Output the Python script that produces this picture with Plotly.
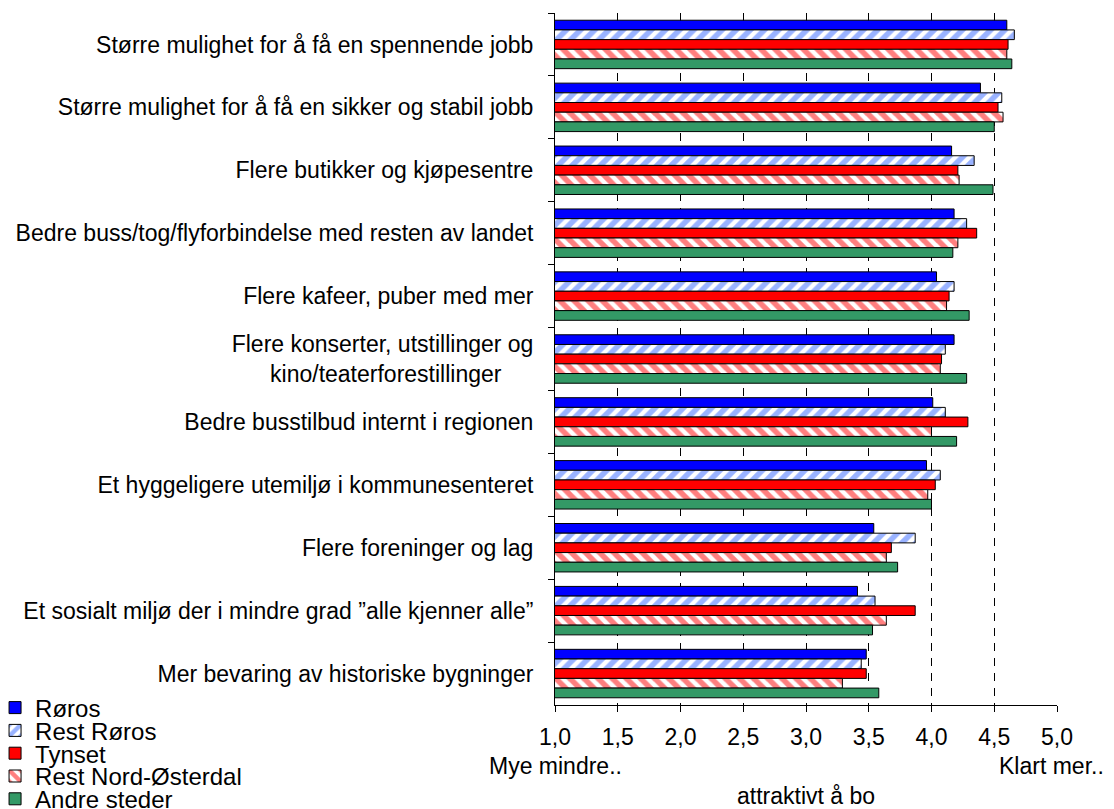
import plotly.graph_objects as go

categories = [
    "Større mulighet for å få en spennende jobb",
    "Større mulighet for å få en sikker og stabil jobb",
    "Flere butikker og kjøpesentre",
    "Bedre buss/tog/flyforbindelse med resten av landet",
    "Flere kafeer, puber med mer",
    "Flere konserter, utstillinger og<br>kino/teaterforestillinger" + "\u00a0" * 5,
    "Bedre busstilbud internt i regionen",
    "Et hyggeligere utemiljø i kommunesenteret",
    "Flere foreninger og lag",
    "Et sosialt miljø der i mindre grad \u201dalle kjenner alle\u201d",
    "Mer bevaring av historiske bygninger",
]

roros = [4.60, 4.39, 4.16, 4.18, 4.04, 4.18, 4.01, 3.96, 3.54, 3.41, 3.48]
rest_roros = [4.66, 4.56, 4.34, 4.28, 4.18, 4.11, 4.11, 4.07, 3.87, 3.55, 3.44]
tynset = [4.61, 4.53, 4.21, 4.36, 4.14, 4.08, 4.29, 4.03, 3.68, 3.87, 3.48]
rest_nord_osterdal = [4.60, 4.57, 4.22, 4.21, 4.12, 4.07, 4.00, 3.97, 3.64, 3.64, 3.29]
andre_steder = [4.64, 4.50, 4.49, 4.17, 4.30, 4.28, 4.20, 4.00, 3.73, 3.53, 3.58]

x_ticks = [1.0, 1.5, 2.0, 2.5, 3.0, 3.5, 4.0, 4.5, 5.0]

FONT = "Arial, Liberation Sans, sans-serif"
FS = 23
outline = dict(color="black", width=1)

series = [
    ("Røros", roros, dict(color="#0000ff", line=outline)),
    ("Rest Røros", rest_roros, dict(
        color="white", line=outline,
        pattern=dict(shape="/", fgcolor="#3366ff", bgcolor="white", size=10, solidity=0.55))),
    ("Tynset", tynset, dict(color="#ff0000", line=outline)),
    ("Rest Nord-Østerdal", rest_nord_osterdal, dict(
        color="white", line=outline,
        pattern=dict(shape="\\", fgcolor="#ff0000", bgcolor="white", size=10, solidity=0.55))),
    ("Andre steder", andre_steder, dict(color="#339966", line=outline)),
]

# figure is drawn 8px in from the page corner (default body margin)
W, H = 1106, 801
L, R, T, B = 546.5, 57, 5, 104
plot_h = H - T - B
plot_w = W - L - R

fig = go.Figure()
legend_layout = {}
for i, (name, vals, marker) in enumerate(series):
    key = "legend" if i == 0 else f"legend{i + 1}"
    fig.add_trace(go.Bar(
        y=categories,
        x=vals,
        name=name,
        orientation="h",
        marker=marker,
        legend=key,
    ))
    # one legend per entry so the rows can sit as tight as in the original
    legend_layout[key] = dict(
        visible=True,
        x=(-14 - L) / plot_w, xanchor="left",
        y=(-3 - i * 22.8) / plot_h, yanchor="middle",
        font=dict(size=24), bgcolor="rgba(0,0,0,0)", itemwidth=30,
    )

fig.update_layout(
    width=W,
    height=H,
    showlegend=True,
    barmode="group",
    bargap=0.23,
    bargroupgap=0,
    plot_bgcolor="white",
    paper_bgcolor="white",
    separators=",.",
    font=dict(family=FONT, size=FS, color="black"),
    margin=dict(l=L, r=R, t=T, b=B, autoexpand=False),
    annotations=[
        dict(text="Mye mindre..", x=1.0, y=-61 / plot_h, xref="x", yref="paper",
             xanchor="center", yanchor="middle", showarrow=False),
        dict(text="Klart mer..", x=5.0, y=-61 / plot_h, xref="x", yref="paper",
             xanchor="center", yanchor="middle", showarrow=False, xshift=-6),
        dict(text="attraktivt å bo", x=3.0, y=-91 / plot_h, xref="x", yref="paper",
             xanchor="center", yanchor="middle", showarrow=False),
    ],
    **legend_layout,
)

fig.update_xaxes(
    range=[1, 5],
    tickvals=x_ticks,
    tickformat=".1f",
    showgrid=True,
    gridcolor="black",
    gridwidth=1,
    griddash="8px,7px",
    showline=True,
    linecolor="black",
    linewidth=1,
    ticks="outside",
    ticklen=6,
    tickcolor="black",
    ticklabelstandoff=5,
    zeroline=False,
)
fig.update_yaxes(
    autorange="reversed",
    showline=True,
    linecolor="black",
    linewidth=1,
    ticks="outside",
    ticklen=6,
    tickcolor="black",
    tickson="boundaries",
    ticklabelstandoff=16,
    showgrid=False,
)

fig.write_html("out.html")
